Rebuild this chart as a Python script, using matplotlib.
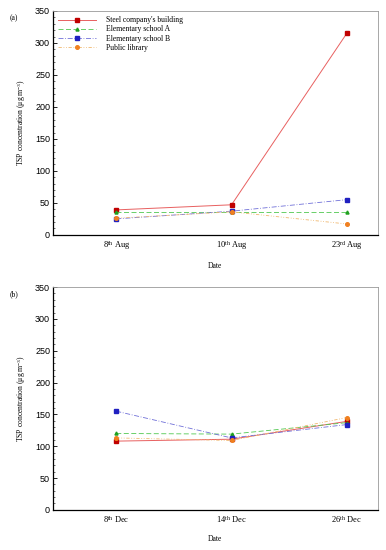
import matplotlib
matplotlib.use("Agg")
import matplotlib.pyplot as plt
from matplotlib.ticker import MultipleLocator

plt.rcParams["mathtext.fontset"] = "custom"
plt.rcParams["mathtext.rm"] = "Liberation Serif"
plt.rcParams["mathtext.it"] = "Liberation Serif:italic"

# data
aug_dates = ["8$^{\\rm th}$ Aug", "10$^{\\rm th}$ Aug", "23$^{\\rm rd}$ Aug"]
dec_dates = ["8$^{\\rm th}$ Dec", "14$^{\\rm th}$ Dec", "26$^{\\rm th}$ Dec"]
names = ["Steel company's building", "Elementary school A", "Elementary school B", "Public library"]
aug_steel = [39, 47, 315]
aug_school_a = [35, 35, 35]
aug_school_b = [25, 37, 55]
aug_library = [26, 36, 17]
dec_steel = [108, 111, 139]
dec_school_a = [120, 119, 137]
dec_school_b = [155, 113, 134]
dec_library = [113, 109, 145]

styles = [
    dict(color="#e86060", ls="-", marker="s", mfc="#c00000", mec="#c00000", ms=3, lw=0.7),
    dict(color="#50c850", ls=(0, (6, 3)), marker="^", mfc="#20a020", mec="#20a020", ms=2.2, lw=0.6),
    dict(color="#7070d8", ls=(0, (6, 2, 1, 2)), marker="s", mfc="#2020c0", mec="#2020c0", ms=2.2, lw=0.6),
    dict(color="#f0b870", ls=(0, (4, 2, 1, 2, 1, 2)), marker="o", mfc="#f08020", mec="#f08020", ms=2.6, lw=0.6),
]

serif = "Liberation Serif"
sans = "Liberation Sans"

fig = plt.figure(figsize=(3.86, 5.5), dpi=100)


def panel(rect, dates, series, tag, legend):
    ax = fig.add_axes(rect)
    x = list(range(len(dates)))
    for name, vals, st in zip(names, series, styles):
        ax.plot(x, vals, label=name, **st)
    ax.set_xlim(-0.55, 2.27)
    ax.set_ylim(0, 350)
    ax.yaxis.set_major_locator(MultipleLocator(50))
    ax.yaxis.set_minor_locator(MultipleLocator(10))
    ax.set_xticks(x)
    ax.set_xticklabels(dates, family=serif, fontsize=6)
    for t in ax.get_yticklabels():
        t.set_family(sans)
        t.set_fontsize(6.5)
    ax.tick_params(axis="y", which="major", direction="in", length=3, width=0.6, pad=2)
    ax.tick_params(axis="y", which="minor", direction="in", length=1.5, width=0.4)
    ax.tick_params(axis="x", length=0, pad=3)
    ax.set_xlabel("Date", family=serif, fontsize=5.5, labelpad=7)
    ax.set_ylabel("TSP concentration (μg m$^{-3}$)", family=serif, fontsize=5.5, labelpad=5)
    for s in ["top", "right"]:
        ax.spines[s].set_color("#999999")
        ax.spines[s].set_linewidth(0.6)
    for s in ["left", "bottom"]:
        ax.spines[s].set_linewidth(0.9)
    fig.text(0.025, rect[1] + rect[3] - 0.005, tag, family=serif, fontsize=5.5, va="top")
    if legend:
        ax.legend(loc="upper left", frameon=False, prop={"family": serif, "size": 5.5},
                  handlelength=5, borderaxespad=0.3, labelspacing=0.15, handletextpad=1.2)
    return ax


panel([0.137, 0.573, 0.842, 0.407], aug_dates,
      [aug_steel, aug_school_a, aug_school_b, aug_library], "(a)", True)
panel([0.137, 0.073, 0.842, 0.405], dec_dates,
      [dec_steel, dec_school_a, dec_school_b, dec_library], "(b)", False)

fig.savefig("out.png", dpi=100)
